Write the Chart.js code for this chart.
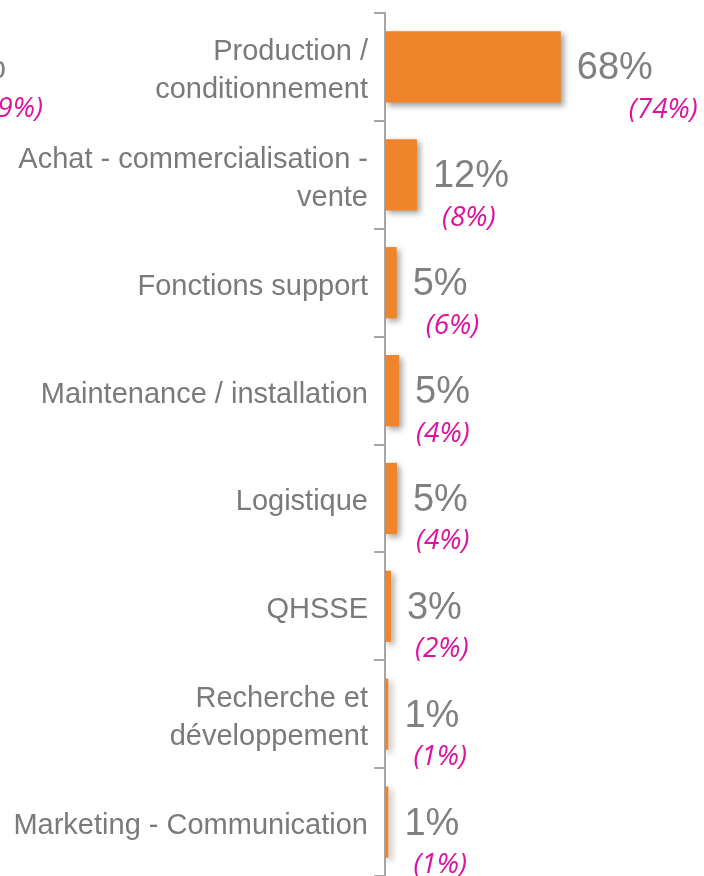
<!DOCTYPE html>
<html><head><meta charset="utf-8">
<script src="https://cdn.jsdelivr.net/npm/chart.js@4.4.1/dist/chart.umd.min.js"></script>
<style>html,body{margin:0;padding:0;background:#fff}canvas{display:block}</style>
</head><body>
<canvas id="c" width="704" height="876"></canvas>
<script>
const categories = [
  ["Production /","conditionnement"],
  ["Achat - commercialisation -","vente"],
  "Fonctions support",
  "Maintenance / installation",
  "Logistique",
  "QHSSE",
  ["Recherche et","développement"],
  "Marketing - Communication"
];
const values = [67.6, 12.3, 4.5, 5.4, 4.6, 2.3, 1.3, 1.3];
const valueLabels = ["68%","12%","5%","5%","5%","3%","1%","1%"];
const previousLabels = ["(74%)","(8%)","(6%)","(4%)","(4%)","(2%)","(1%)","(1%)"];

const prevOffsets = [52, 9, 13, 1, 3, 8, 9, 9];

const labelPlugin = {
  id: 'labels',
  beforeDatasetsDraw(chart){
    const ctx = chart.ctx;
    ctx.save();
    ctx.shadowColor = 'rgba(0,0,0,0.38)';
    ctx.shadowBlur = 6;
    ctx.shadowOffsetX = 3;
    ctx.shadowOffsetY = 3;
  },
  afterDatasetsDraw(chart){
    const ctx = chart.ctx;
    ctx.restore();
    const meta = chart.getDatasetMeta(0);
    ctx.save();
    meta.data.forEach((bar, i) => {
      const x = bar.x + 16;
      ctx.textBaseline = 'middle';
      ctx.textAlign = 'left';
      ctx.fillStyle = '#808080';
      ctx.font = '38px "Liberation Sans", Arial, sans-serif';
      ctx.fillText(valueLabels[i], x, bar.y + 2);
      ctx.fillStyle = '#DA149E';
      ctx.font = 'italic 28px "Open Sans", sans-serif';
      ctx.fillText(previousLabels[i], x + prevOffsets[i], bar.y + 43);
    });
    // clipped labels from neighbouring chart at left edge
    ctx.textAlign = 'right';
    ctx.fillStyle = '#808080';
    ctx.font = '38px "Liberation Sans", Arial, sans-serif';
    ctx.fillText('%', 6, 68);
    ctx.fillStyle = '#DA149E';
    ctx.font = 'italic 28px "Open Sans", sans-serif';
    ctx.fillText('9%)', 43, 109);
    ctx.restore();
  }
};

new Chart(document.getElementById('c'), {
  type: 'bar',
  data: {
    labels: categories,
    datasets: [{
      data: values,
      backgroundColor: '#EF852A',
      borderWidth: 0,
      categoryPercentage: 1,
      barPercentage: 0.66
    }]
  },
  options: {
    indexAxis: 'y',
    responsive: false,
    animation: false,
    devicePixelRatio: 1,
    layout: { padding: { top: 13, bottom: 0, left: 0, right: 7 } },
    plugins: { legend: { display: false }, tooltip: { enabled: false } },
    scales: {
      x: { display: false, min: 0, max: 120 },
      y: {
        afterFit(s){ s.width = 385; s.paddingTop = 0; s.paddingBottom = 0; },
        offset: true,
        grid: { display: true, drawOnChartArea: false, drawTicks: true, tickLength: 11, offset: true, color: '#A6A6A6', lineWidth: 2 },
        border: { display: true, color: '#A6A6A6', width: 2 },
        ticks: {
          color: '#7A7A7A',
          padding: 6,
          labelOffset: 4,
          font: { family: '"Liberation Sans", Arial, sans-serif', size: 29, lineHeight: 1.3 }
        }
      }
    }
  },
  plugins: [labelPlugin]
});
</script>
</body></html>
